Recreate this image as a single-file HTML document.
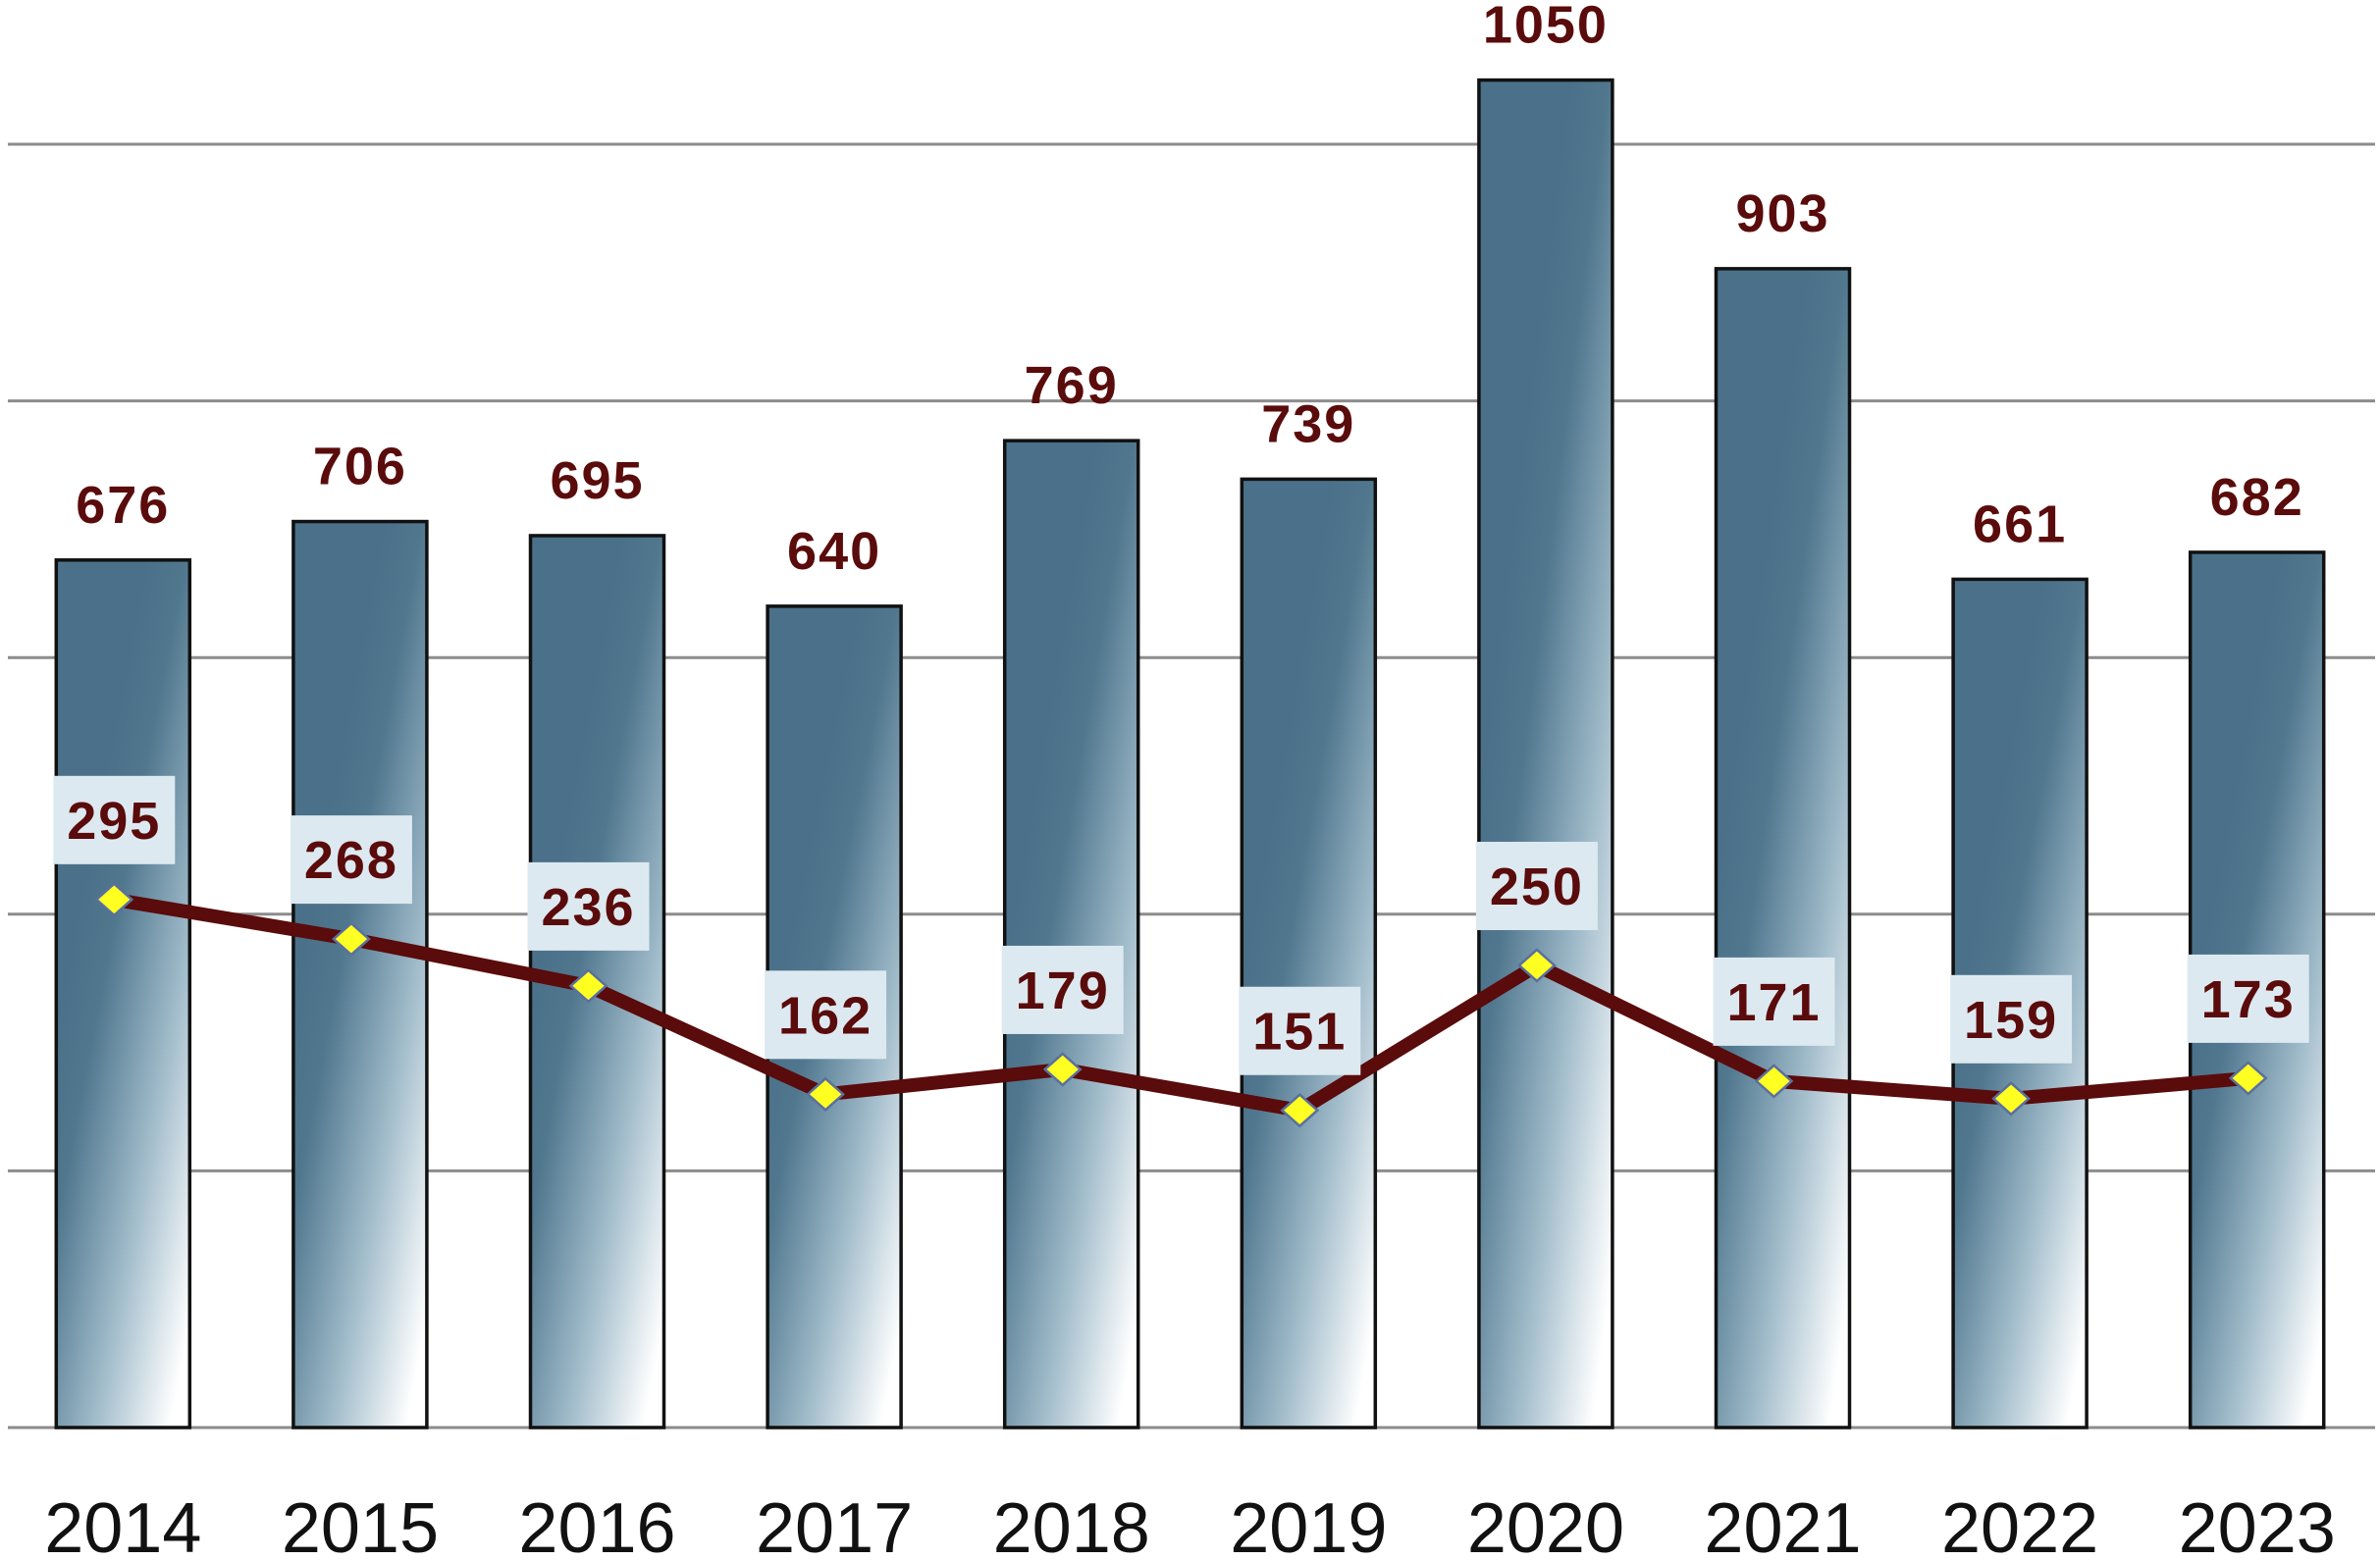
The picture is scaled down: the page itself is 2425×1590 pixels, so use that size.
<!DOCTYPE html>
<html><head><meta charset="utf-8"><style>
html,body{margin:0;padding:0;background:#fff;}
svg{display:block;}
text{font-family:"Liberation Sans",sans-serif;}
</style></head><body>
<svg id="chart" width="2425" height="1590" viewBox="0 0 2425 1590" xmlns="http://www.w3.org/2000/svg">
<defs>
<linearGradient id="barGrad" x1="0.3" y1="0.3" x2="0.85" y2="1">
<stop offset="0" stop-color="#4a7189"/>
<stop offset="0.2" stop-color="#50778e"/>
<stop offset="0.6" stop-color="#a0bbca"/>
<stop offset="1" stop-color="#ffffff"/>
</linearGradient>
</defs>
<g id="grid"></g>
<g id="bars"></g>
<g id="line"></g>
<g id="labels"></g>
</svg>
<script>
const years = ["2014","2015","2016","2017","2018","2019","2020","2021","2022","2023"];
const barValues = [676,706,695,640,769,739,1050,903,661,682];
const lineValues = [295,268,236,162,179,151,250,171,159,173];
const gridTicks = [0,200,400,600,800,1000];

const NS="http://www.w3.org/2000/svg";
const baseY=1455, x0=125.3, step=241.6, barW=136;
function xPos(i){return x0+i*step;}
function yBar(v){return baseY-1.308*v;}
function yLine(v){return baseY-(97.9+1.4925*v);}
function mk(tag,attrs,parent){const e=document.createElementNS(NS,tag);for(const k in attrs)e.setAttribute(k,attrs[k]);parent.appendChild(e);return e;}
const grid=document.getElementById('grid'),bars=document.getElementById('bars'),line=document.getElementById('line'),labels=document.getElementById('labels');

gridTicks.forEach(t=>{
  const l=mk('line',{x1:8,x2:2420,y1:yBar(t),y2:yBar(t),stroke:'#8c8c8c','stroke-width':3},grid);
  
  
});

barValues.forEach((v,i)=>{
  const cx=xPos(i);
  const r=mk('rect',{x:cx-barW/2,y:yBar(v),width:barW,height:baseY-yBar(v),fill:'url(#barGrad)',stroke:'#111','stroke-width':3.5},bars);
  
  
  const t=mk('text',{x:cx,y:yBar(v)-38,'text-anchor':'middle','font-size':54,'font-weight':'bold',fill:'#5a0b0b','letter-spacing':2},labels);
  t.textContent=v;
  
  
  const y=mk('text',{x:cx,y:1582,'text-anchor':'middle','font-size':72,fill:'#111'},labels);
  y.textContent=years[i];
  
  
});

const pts=lineValues.map((v,i)=>[xPos(i)-9,yLine(v)]);
const pl=mk('polyline',{points:pts.map(p=>p.join(',')).join(' '),fill:'none',stroke:'#5a0b0b','stroke-width':14,'stroke-linejoin':'round'},line);


pts.forEach((p,i)=>{
  const d=mk('polygon',{points:`${p[0]-18},${p[1]} ${p[0]},${p[1]-16} ${p[0]+18},${p[1]} ${p[0]},${p[1]+16}`,fill:'#ffff22',stroke:'#5a6fa0','stroke-width':2.5},line);
  
  
  const bw=124,bh=90;
  const b=mk('rect',{x:p[0]-bw/2,y:p[1]-36-bh,width:bw,height:bh,fill:'#dde9f0'},labels);
  
  
  const t=mk('text',{x:p[0],y:p[1]-36-bh/2+19,'text-anchor':'middle','font-size':54,'font-weight':'bold',fill:'#5a0b0b','letter-spacing':2},labels);
  t.textContent=lineValues[i];
  
  
});
</script>
</body></html>
